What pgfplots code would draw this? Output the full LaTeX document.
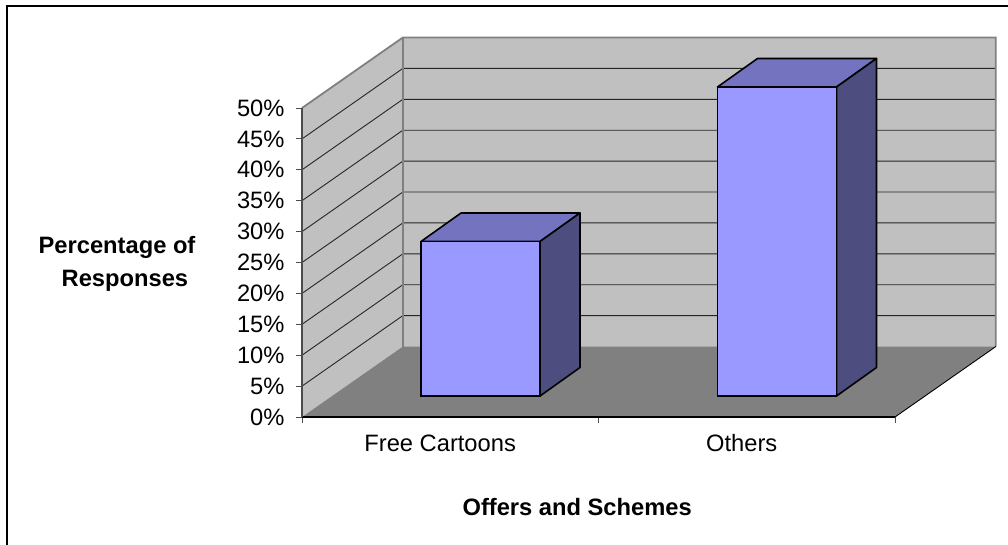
\documentclass[border=0pt]{standalone}
\usepackage{fontspec}
\setmainfont{Liberation Sans}
\usepackage{pgfplots}
\pgfplotsset{compat=1.18}
\definecolor{wall}{HTML}{C0C0C0}
\definecolor{floorgray}{HTML}{808080}
\definecolor{barfront}{HTML}{9999FF}
\definecolor{bartop}{HTML}{7373BF}
\definecolor{barside}{HTML}{4D4D80}
\begin{document}
\begin{tikzpicture}
  \path[use as bounding box] (0,0) rectangle (1008pt,545pt);
  \draw[line width=2.8pt] (7pt,-2pt) -- (7pt,539pt) -- (1010pt,539pt);

  % chart box: walls, floor, gridlines, ticks and labels
  \begin{axis}[
      at={(302pt,128pt)}, anchor=south west,
      scale only axis,
      width=593pt, height=309pt,
      xmin=0, xmax=2, ymin=0, ymax=50,
      clip=false,
      axis on top=true,
      axis x line*=bottom, axis y line*=left,
      axis line style={-},
      x axis line style={black, line width=1.1pt},
      y axis line style={black!70, line width=1.2pt},
      tick align=outside,
      major tick length=6pt, minor tick length=6pt,
      xtick={0.466,1.483},
      xticklabels={Free Cartoons,Others},
      minor xtick={0,1,2},
      major x tick style={draw=none},
      minor x tick style={black!70, line width=0.9pt},
      ytick={0,5,10,15,20,25,30,35,40,45,50},
      ytick style={black!70, line width=0.9pt},
      yticklabel={\pgfmathprintnumber{\tick}\%},
      /pgf/number format/assume math mode=true,
      ticklabel style={font=\fontsize{23.7}{28}\selectfont},
      xticklabel style={yshift=-8pt},
      yticklabel style={xshift=-8pt},
      xlabel={Offers and Schemes},
      xlabel style={font=\fontsize{23.7}{28}\selectfont\bfseries,
        at={(axis description cs:0.464,-0.32)}, anchor=base},
      ylabel={Percentage of\\\hspace*{23pt}Responses},
      ylabel style={font=\fontsize{23.7}{33}\selectfont\bfseries, align=left,
        rotate=-90, at={(axis description cs:-0.45,0.497)}, anchor=west},
    ]
    \addplot[fill=wall, draw=none] coordinates {(0,0) (0.34,11.4) (0.34,61.4) (0,50)} -- cycle;
    \addplot[fill=wall, draw=none] coordinates {(0.34,11.4) (2.34,11.4) (2.34,61.4) (0.34,61.4)} -- cycle;
    \addplot[fill=floorgray, draw=none] coordinates {(0,0) (2,0) (2.34,11.4) (0.34,11.4)} -- cycle;

    \addplot[black!85, line width=0.9pt] coordinates {(0,5) (0.34,16.4) (2.34,16.4)};
    \addplot[black!85, line width=0.9pt] coordinates {(0,10) (0.34,21.4) (2.34,21.4)};
    \addplot[black!85, line width=0.9pt] coordinates {(0,15) (0.34,26.4) (2.34,26.4)};
    \addplot[black!85, line width=0.9pt] coordinates {(0,20) (0.34,31.4) (2.34,31.4)};
    \addplot[black!85, line width=0.9pt] coordinates {(0,25) (0.34,36.4) (2.34,36.4)};
    \addplot[black!85, line width=0.9pt] coordinates {(0,30) (0.34,41.4) (2.34,41.4)};
    \addplot[black!85, line width=0.9pt] coordinates {(0,35) (0.34,46.4) (2.34,46.4)};
    \addplot[black!85, line width=0.9pt] coordinates {(0,40) (0.34,51.4) (2.34,51.4)};
    \addplot[black!85, line width=0.9pt] coordinates {(0,45) (0.34,56.4) (2.34,56.4)};

    \addplot[floorgray, line width=1.8pt] coordinates {(0,50) (0.34,61.4) (2.34,61.4) (2.34,11.4)};
    \addplot[floorgray, line width=1.8pt] coordinates {(0.34,61.4) (0.34,11.4)};
    \addplot[black, line width=0.9pt] coordinates {(2,0) (2.34,11.4)};
  \end{axis}

  % bars stand half way into the box, so this axis is moved by half the depth
  \begin{axis}[
      at={(332.25pt,149pt)}, anchor=south west,
      scale only axis,
      width=593pt, height=309pt,
      xmin=0, xmax=2, ymin=0, ymax=50,
      clip=false,
      hide axis,
    ]
    \addplot[fill=bartop, draw=black, line width=1.6pt, line join=round]
      coordinates {(0.2993,25) (0.7007,25) (0.8356,29.61) (0.4342,29.61)} -- cycle;
    \addplot[fill=barside, draw=black, line width=1.6pt, line join=round]
      coordinates {(0.7007,0) (0.8356,4.61) (0.8356,29.61) (0.7007,25)} -- cycle;
    \addplot[fill=bartop, draw=black, line width=1.6pt, line join=round]
      coordinates {(1.2993,50) (1.7007,50) (1.8356,54.61) (1.4342,54.61)} -- cycle;
    \addplot[fill=barside, draw=black, line width=1.6pt, line join=round]
      coordinates {(1.7007,0) (1.8356,4.61) (1.8356,54.61) (1.7007,50)} -- cycle;
    \addplot[ybar, bar width=119pt, bar shift=0pt, fill=barfront, draw=black, line width=1.6pt]
      coordinates {(0.5,25) (1.5,50)};
  \end{axis}
\end{tikzpicture}
\end{document}
